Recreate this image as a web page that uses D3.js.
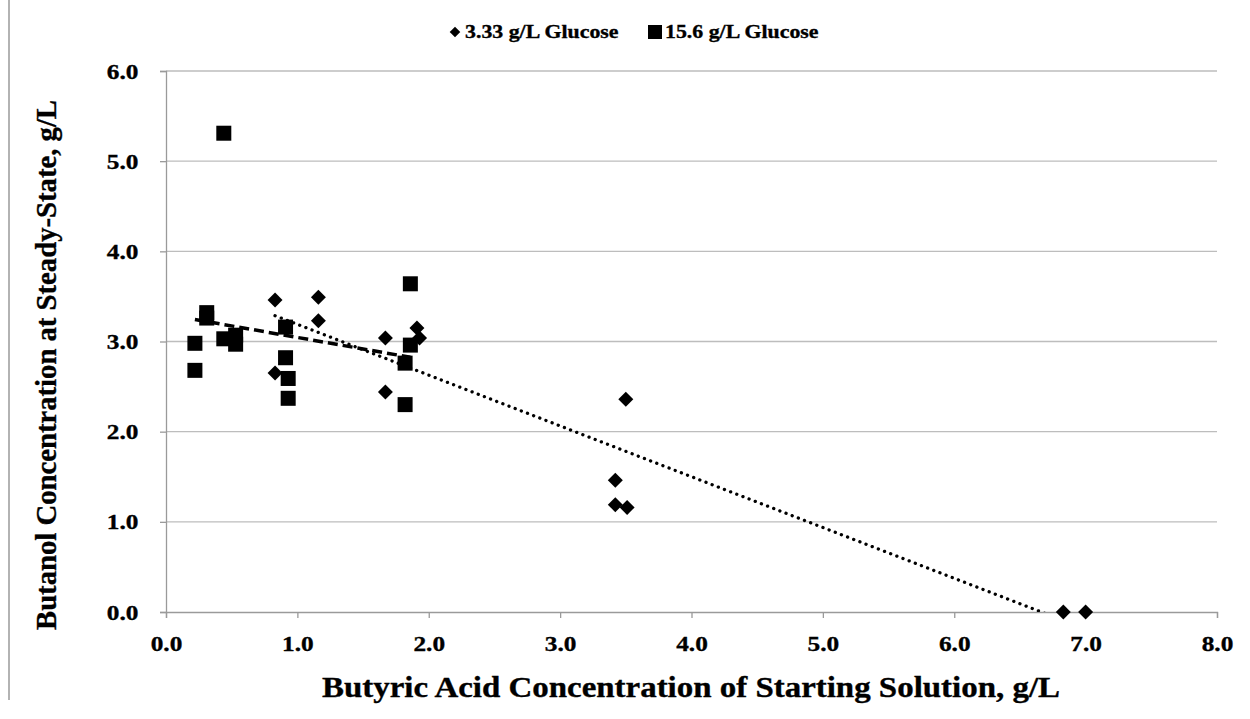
<!DOCTYPE html>
<html>
<head>
<meta charset="utf-8">
<script src="https://cdn.jsdelivr.net/npm/d3@7"></script>
<style>
  html, body { margin: 0; padding: 0; background: #fff; }
  svg { display: block; }
  text { font-family: "Liberation Serif", "Times New Roman", serif; font-weight: bold; fill: #000; stroke: #000; stroke-width: 0.35px; }
</style>
</head>
<body>
<svg id="chart" width="1250" height="719"></svg>
<script>
// Series: 3.33 g/L glucose (diamonds)
const lowGlucoseX = [0.83, 1.16, 1.16, 0.83, 1.67, 1.67, 1.91, 1.93, 3.50, 3.42, 3.42, 3.51, 6.83, 7.00];
const lowGlucoseY = [3.46, 3.49, 3.23, 2.65, 3.04, 2.44, 3.15, 3.04, 2.36, 1.46, 1.19, 1.16, 0.00, 0.00];

// Series: 15.6 g/L glucose (squares)
const highGlucoseX = [0.44, 0.22, 0.22, 0.31, 0.31, 0.44, 0.53, 0.53, 0.91, 0.91, 0.93, 0.93, 1.86, 1.86, 1.82, 1.82];
const highGlucoseY = [5.31, 2.98, 2.68, 3.32, 3.26, 3.03, 3.07, 2.97, 3.16, 2.82, 2.59, 2.37, 3.64, 2.96, 2.76, 2.30];

const seriesNames = ["3.33 g/L Glucose", "15.6 g/L Glucose"];
const xTicks = [0, 1, 2, 3, 4, 5, 6, 7, 8];
const yTicks = [0, 1, 2, 3, 4, 5, 6];
const xTitle = "Butyric Acid Concentration of Starting Solution, g/L";
const yTitle = "Butanol Concentration at Steady-State, g/L";

// Text is set slightly wide (horizontal stretch)
const stretch = 1.15;

const svg = d3.select("#chart");
const margin = { left: 166, right: 1217, top: 71, bottom: 612 };

const x = d3.scaleLinear().domain([0, 8]).range([margin.left, margin.right]);
const y = d3.scaleLinear().domain([0, 6]).range([margin.bottom, margin.top]);

svg.append("defs").append("clipPath").attr("id", "plot-clip")
  .append("rect")
  .attr("x", margin.left).attr("y", margin.top)
  .attr("width", margin.right - margin.left)
  .attr("height", margin.bottom - margin.top);

// Page frame line on the left edge
svg.append("line")
  .attr("x1", 9).attr("x2", 9).attr("y1", 0).attr("y2", 700)
  .attr("stroke", "#9a9a9a").attr("stroke-width", 1.5);

// Horizontal gridlines
svg.append("g")
  .selectAll("line")
  .data(yTicks.filter(d => d > 0))
  .join("line")
  .attr("x1", x(0)).attr("x2", x(8))
  .attr("y1", d => y(d)).attr("y2", d => y(d))
  .attr("stroke", "#bdbdbd").attr("stroke-width", 1.3);

function styleTickText(sel) {
  sel.style("font-size", "22px")
    .style("font-family", "Liberation Serif, serif")
    .style("font-weight", "bold")
    .attr("fill", "#000")
    .attr("stroke", "#000").attr("stroke-width", 0.35)
    .attr("transform", `scale(${stretch},1)`);
}

// Y axis
const yAxis = svg.append("g")
  .attr("transform", `translate(${x(0)},0)`)
  .call(d3.axisLeft(y).tickValues(yTicks).tickFormat(d3.format(".1f")).tickSize(6).tickPadding(18));
yAxis.select(".domain").attr("stroke", "#9a9a9a").attr("stroke-width", 1.3);
yAxis.selectAll(".tick line").attr("stroke", "#9a9a9a").attr("stroke-width", 1.3);
styleTickText(yAxis.selectAll(".tick text"));

// X axis
const xAxis = svg.append("g")
  .attr("transform", `translate(0,${y(0)})`)
  .call(d3.axisBottom(x).tickValues(xTicks).tickFormat(d3.format(".1f")).tickSize(6).tickPadding(17));
xAxis.select(".domain").attr("stroke", "#9a9a9a").attr("stroke-width", 1.3);
xAxis.selectAll(".tick line").attr("stroke", "#9a9a9a").attr("stroke-width", 1.3);
styleTickText(xAxis.selectAll(".tick text"));

// Least-squares linear trend for a series
function linearFit(xs, ys) {
  const mx = d3.mean(xs), my = d3.mean(ys);
  let sxy = 0, sxx = 0;
  xs.forEach((v, i) => { sxy += (v - mx) * (ys[i] - my); sxx += (v - mx) * (v - mx); });
  const slope = sxy / sxx;
  const intercept = my - slope * mx;
  const [x0, x1] = d3.extent(xs);
  return [[x0, intercept + slope * x0], [x1, intercept + slope * x1]];
}

const line = d3.line().x(d => x(d[0])).y(d => y(d[1]));

// Markers
const lowPoints = lowGlucoseX.map((v, i) => [v, lowGlucoseY[i]]);
const highPoints = highGlucoseX.map((v, i) => [v, highGlucoseY[i]]);

const diamond = d3.symbol().type(d3.symbolSquare).size(112);

svg.append("g")
  .selectAll("rect")
  .data(highPoints)
  .join("rect")
  .attr("x", d => x(d[0]) - 7.5)
  .attr("y", d => y(d[1]) - 7.5)
  .attr("width", 15).attr("height", 15)
  .attr("fill", "#000");

svg.append("g")
  .selectAll("path")
  .data(lowPoints)
  .join("path")
  .attr("d", diamond)
  .attr("transform", d => `translate(${x(d[0])},${y(d[1])}) rotate(45)`)
  .attr("fill", "#000");

// Trendlines (clipped to the plot area)
const trends = svg.append("g").attr("clip-path", "url(#plot-clip)");

trends.append("path")
  .datum(linearFit(lowGlucoseX, lowGlucoseY))
  .attr("d", line)
  .attr("fill", "none").attr("stroke", "#000")
  .attr("stroke-width", 3.3)
  .attr("stroke-linecap", "round")
  .attr("stroke-dasharray", "0.1,6.5");

trends.append("path")
  .datum(linearFit(highGlucoseX, highGlucoseY))
  .attr("d", line)
  .attr("fill", "none").attr("stroke", "#000")
  .attr("stroke-width", 3.5)
  .attr("stroke-dasharray", "10,5");

// Axis titles
svg.append("text")
  .attr("x", 691).attr("y", 697)
  .attr("text-anchor", "middle")
  .attr("textLength", 738)
  .attr("lengthAdjust", "spacingAndGlyphs")
  .style("font-size", "30px")
  .text(xTitle);

svg.append("text")
  .attr("transform", "translate(56,365) rotate(-90)")
  .attr("text-anchor", "middle")
  .attr("textLength", 530)
  .attr("lengthAdjust", "spacingAndGlyphs")
  .style("font-size", "29px")
  .text(yTitle);

// Legend
const legend = svg.append("g");
legend.append("path")
  .attr("d", d3.symbol().type(d3.symbolSquare).size(56))
  .attr("transform", "translate(455,32) rotate(45)")
  .attr("fill", "#000");
legend.append("text")
  .attr("transform", `translate(465,38) scale(${stretch},1)`)
  .style("font-size", "19px")
  .text(seriesNames[0]);
legend.append("rect")
  .attr("x", 648).attr("y", 25).attr("width", 14).attr("height", 14)
  .attr("fill", "#000");
legend.append("text")
  .attr("transform", `translate(665,38) scale(${stretch},1)`)
  .style("font-size", "19px")
  .text(seriesNames[1]);
</script>
</body>
</html>
